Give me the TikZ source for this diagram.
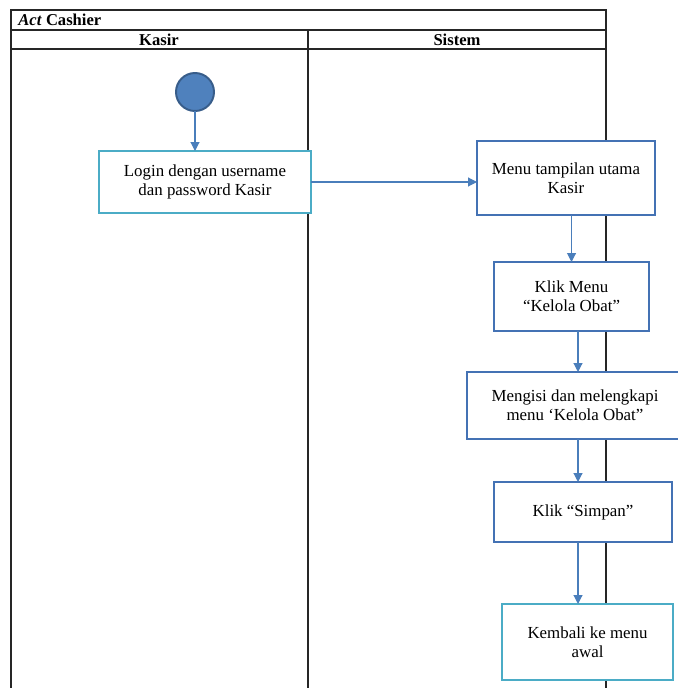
\documentclass[tikz,border=0pt]{standalone}
\usepackage{fontspec}
\setmainfont{Liberation Serif}
\usetikzlibrary{arrows.meta}

\definecolor{ubiru}{HTML}{4A7EBB}
\definecolor{ukotak}{HTML}{4472B4}
\definecolor{utosca}{HTML}{4BACC6}
\definecolor{ubulat}{HTML}{4F81BD}
\definecolor{ugaris}{HTML}{385D8A}

\begin{document}
\begin{tikzpicture}[x=0.025cm, y=-0.025cm,
  >={Triangle[length=0.22cm,width=0.22cm]}, %
  inner sep=1pt, outer sep=0pt,%
  lane/.style={line width=1pt,draw=black!85},
  start node/.style={circle,draw=ugaris,fill=ubulat,line width=1.4pt,minimum size=0.95cm},
  act node/.style={rectangle,draw=#1,fill=white,line width=2pt,align=center,
    font=\fontsize{12}{13.8}\selectfont},
  flow/.style={ubiru,line width=0.8pt,->},
  head/.style={font=\fontsize{11.8}{13}\selectfont\bfseries}]

\useasboundingbox (0,0) rectangle (677,688);

% swimlane frame
\draw[lane] (11,10) rectangle (606,700);
\draw[lane] (11,30) -- (606,30);
\draw[lane] (11,49) -- (606,49);
\draw[lane] (308,30) -- (308,700);

\node[head,anchor=west] (judul) at (17,20) {\textit{Act} Cashier};
\node[head] (kasir) at (159,40) {Kasir};
\node[head] (sistem) at (457,40) {Sistem};

% activities
\node[start node] (mulai) at (195,92) {};

\node[act node=utosca,minimum width=5.3cm,minimum height=1.55cm] (login) at (205,182)
  {Login dengan username\\dan password Kasir};

\node[act node=ukotak,minimum width=4.45cm,minimum height=1.85cm] (menu) at (566,178)
  {Menu tampilan utama\\Kasir};

\node[act node=ukotak,minimum width=3.875cm,minimum height=1.725cm] (klik) at (571.5,296.5)
  {Klik Menu\\``Kelola Obat''};

\node[act node=ukotak,minimum width=5.4cm,minimum height=1.675cm] (isi) at (575,405.5)
  {Mengisi dan melengkapi\\menu `Kelola Obat''};

\node[act node=ukotak,minimum width=4.45cm,minimum height=1.5cm] (simpan) at (583,512)
  {Klik ``Simpan''};

\node[act node=utosca,minimum width=4.275cm,minimum height=1.9cm] (kembali) at (587.5,642)
  {Kembali ke menu\\awal};

% connectors
\coordinate (jalur) at (578,0);

\draw[flow] (mulai) -- (mulai |- login.north);
\draw[flow] (login) -- (login -| menu.west);
\draw[flow] (menu.south -| klik) -- (klik);
\draw[flow] (klik.south -| jalur) -- (isi.north -| jalur);
\draw[flow] (isi.south -| jalur) -- (simpan.north -| jalur);
\draw[flow] (simpan.south -| jalur) -- (kembali.north -| jalur);

\end{tikzpicture}
\end{document}
